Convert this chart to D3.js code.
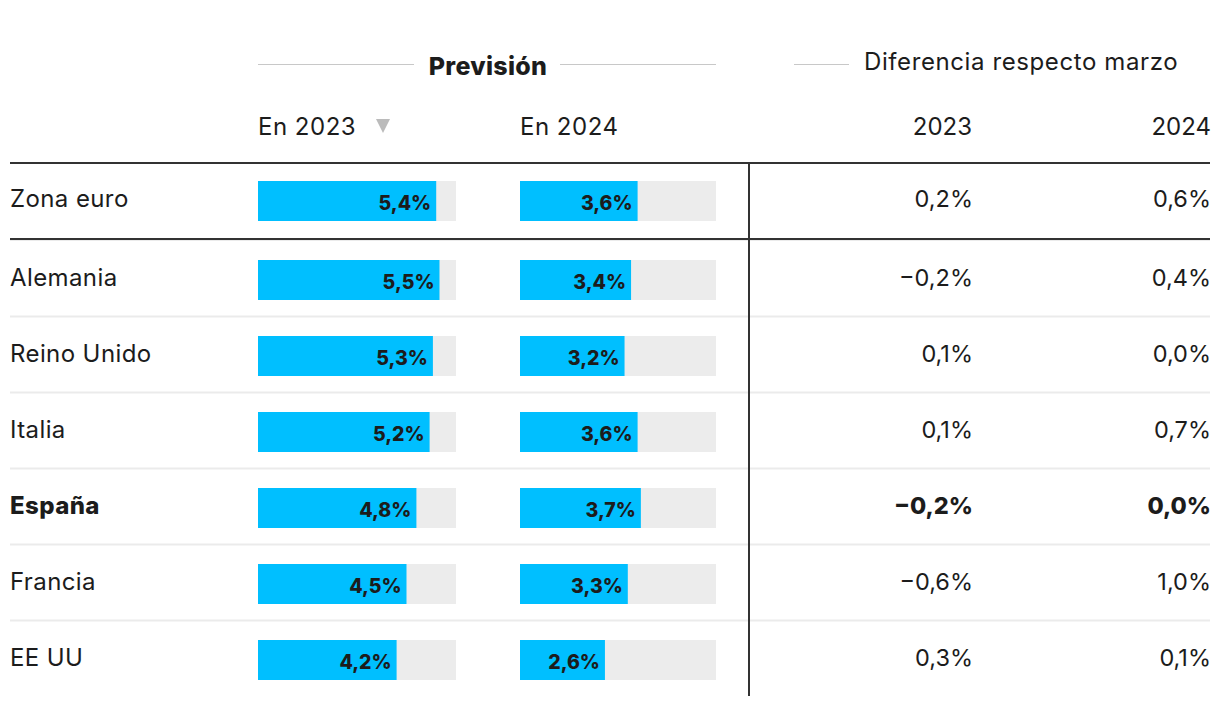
<!DOCTYPE html>
<html>
<head>
<meta charset="utf-8">
<script src="https://cdn.jsdelivr.net/npm/d3@7"></script>
<style>
  html, body { margin: 0; padding: 0; background: #fff; }
  svg { display: block; }
  text { font-family: Inter, "Noto Sans", sans-serif; fill: #1c1c1c; }
</style>
</head>
<body>
<svg id="chart" width="1220" height="706"></svg>
<script>
const countries = ["Zona euro", "Alemania", "Reino Unido", "Italia", "España", "Francia", "EE UU"];
const forecast2023 = [5.4, 5.5, 5.3, 5.2, 4.8, 4.5, 4.2];
const forecast2024 = [3.6, 3.4, 3.2, 3.6, 3.7, 3.3, 2.6];
const diff2023 = [0.2, -0.2, 0.1, 0.1, -0.2, -0.6, 0.3];
const diff2024 = [0.6, 0.4, 0.0, 0.7, 0.0, 1.0, 0.1];
const highlight = ["España"];
const groupTitles = ["Previsión", "Diferencia respecto marzo"];
const columnTitles = ["En 2023", "En 2024", "2023", "2024"];
const barMax = 6;

const locale = d3.formatLocale({decimal: ",", thousands: ".", grouping: [3], currency: ["", "€"], minus: "\u2212"});
const fmt = v => locale.format(".1f")(v) + "%";

const svg = d3.select("#chart");
const left = 10, right = 1210;
const rowCenter = i => (i === 0 ? 201 : 164 + i * 76 + 40);

const cols = [
  {x0: 258, w: 198, data: forecast2023},
  {x0: 520, w: 196, data: forecast2024}
];
cols.forEach(c => { c.scale = d3.scaleLinear().domain([0, barMax]).range([0, c.w]); });

// Header: group titles with rules
const hdrY = 64.5;
const ruleColor = "#c8c8c8";
svg.append("line").attr("x1", 258).attr("x2", 414).attr("y1", hdrY).attr("y2", hdrY).attr("stroke", ruleColor).attr("stroke-width", 1);
svg.append("line").attr("x1", 560).attr("x2", 716).attr("y1", hdrY).attr("y2", hdrY).attr("stroke", ruleColor).attr("stroke-width", 1);
svg.append("text").attr("x", 488).attr("y", 75).attr("text-anchor", "middle")
  .style("font-size", "25px").style("font-weight", 800).style("letter-spacing", "0.3px").text(groupTitles[0]);
svg.append("line").attr("x1", 794).attr("x2", 849).attr("y1", hdrY).attr("y2", hdrY).attr("stroke", ruleColor).attr("stroke-width", 1);
svg.append("text").attr("x", 864).attr("y", 70).style("font-size", "24px").style("letter-spacing", "0.6px").text(groupTitles[1]);

// Column titles
const colTitleY = 135;
svg.append("text").attr("x", 258).attr("y", colTitleY).style("font-size", "24px").style("letter-spacing", "0.5px").text(columnTitles[0]);
svg.append("path").attr("d", "M376,119 L390,119 L383,133 Z").attr("fill", "#bbbbbb");
svg.append("text").attr("x", 520).attr("y", colTitleY).style("font-size", "24px").style("letter-spacing", "0.5px").text(columnTitles[1]);
svg.append("text").attr("x", 972).attr("y", colTitleY).attr("text-anchor", "end").style("font-size", "24px").text(columnTitles[2]);
svg.append("text").attr("x", 1211).attr("y", colTitleY).attr("text-anchor", "end").style("font-size", "24px").text(columnTitles[3]);

// Row separators (light)
countries.forEach((c, i) => {
  if (i >= 1 && i < countries.length - 1) {
    const yy = 164 + (i + 1) * 76 + 0.5;
    svg.append("line").attr("x1", left).attr("x2", right).attr("y1", yy).attr("y2", yy)
      .attr("stroke", "#ebebeb").attr("stroke-width", 2);
  }
});
svg.append("line").attr("x1", left).attr("x2", right).attr("y1", 240.5).attr("y2", 240.5).attr("stroke", "#ebebeb").attr("stroke-width", 1);
// Dark lines
svg.append("line").attr("x1", left).attr("x2", right).attr("y1", 163).attr("y2", 163).attr("stroke", "#333").attr("stroke-width", 2);
svg.append("line").attr("x1", left).attr("x2", right).attr("y1", 239).attr("y2", 239).attr("stroke", "#333").attr("stroke-width", 2);
svg.append("line").attr("x1", 749).attr("x2", 749).attr("y1", 163).attr("y2", 696).attr("stroke", "#333").attr("stroke-width", 2);

// Rows
const rows = svg.selectAll("g.row").data(countries).join("g").attr("class", "row");

rows.append("text")
  .attr("x", left)
  .attr("y", (d, i) => rowCenter(i) + 6)
  .style("font-size", "24px")
  .style("letter-spacing", "0.4px")
  .style("font-weight", d => highlight.includes(d) ? 800 : 400)
  .text(d => d);

cols.forEach(c => {
  rows.append("rect")
    .attr("x", c.x0).attr("y", (d, i) => rowCenter(i) - 20)
    .attr("width", c.w).attr("height", 40).attr("fill", "#ececec");
  rows.append("rect")
    .attr("x", c.x0).attr("y", (d, i) => rowCenter(i) - 20)
    .attr("width", (d, i) => c.scale(c.data[i])).attr("height", 40).attr("fill", "#00bfff");
  rows.append("text")
    .attr("x", (d, i) => c.x0 + c.scale(c.data[i]) - 5)
    .attr("y", (d, i) => rowCenter(i) + 9)
    .attr("text-anchor", "end")
    .style("font-size", "19.5px").style("font-weight", 800)
    .text((d, i) => fmt(c.data[i]));
});

[{x: 973, data: diff2023}, {x: 1211, data: diff2024}].forEach(c => {
  rows.append("text")
    .attr("x", c.x).attr("y", (d, i) => rowCenter(i) + 6)
    .attr("text-anchor", "end")
    .style("font-size", "23.5px")
    .style("font-weight", d => highlight.includes(d) ? 800 : 400)
    .text((d, i) => fmt(c.data[i]));
});
</script>
</body>
</html>
